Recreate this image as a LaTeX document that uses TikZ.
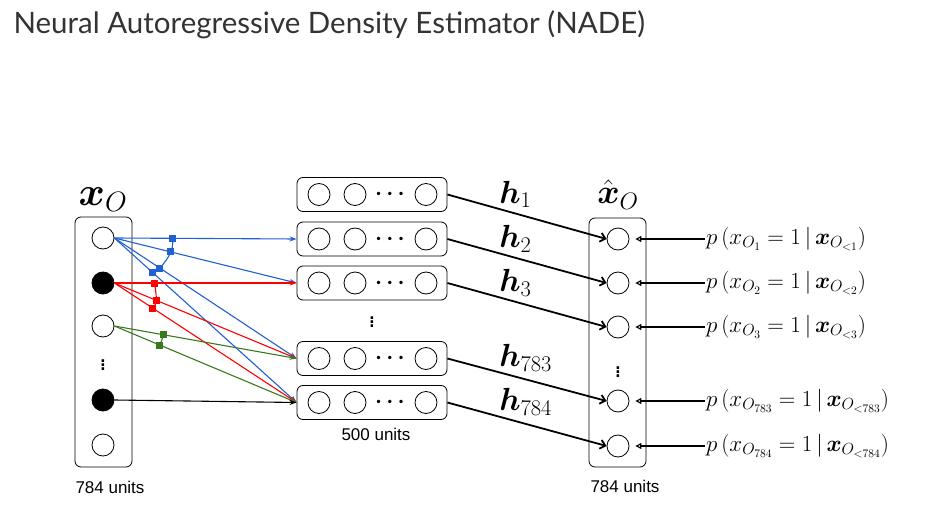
\RequirePackage{fix-cm}
\documentclass[tikz,border=0pt]{standalone}
\usepackage{amsmath,amssymb}
\usepackage[no-math]{fontspec}
\setmainfont{Liberation Sans}
\newfontfamily\titlefont{Lato}
\usetikzlibrary{arrows.meta}

\definecolor{nadeBlue}{HTML}{2060D0}
\definecolor{nadeRed}{HTML}{FF0000}
\definecolor{nadeGreen}{HTML}{3A7A1E}
\definecolor{nadeTitle}{HTML}{333333}

\begin{document}
\begin{tikzpicture}[x=1pt, y=-1pt,
  colbox/.style={draw, rounded corners=6pt, line width=0.8pt, inner sep=0pt},
  unitc/.style={circle, draw, line width=0.8pt, minimum size=22pt, inner sep=0pt},
  onunit/.style={unitc, fill=black},
  inarrow/.style={line width=1.1pt, -{Stealth[length=7pt,width=5pt]}},
  outarrow/.style={line width=1.8pt, -{Straight Barb[length=5pt,width=9pt]}},
  parrow/.style={line width=1.4pt, shorten >=6pt,
    -{Triangle[open,length=6pt,width=6pt,line width=1.2pt]}},
  wsq/.style={fill=#1, minimum size=7pt, inner sep=0pt},
  unitslab/.style={font=\fontsize{17}{19}\selectfont},
  hlab/.style={font=\fontsize{32}{34}\selectfont, inner sep=0pt},
  plab/.style={font=\fontsize{23}{25}\selectfont, inner sep=1pt},
  vdot/.style={font=\fontsize{26}{26}\selectfont\boldmath},
  hdot/.style={font=\fontsize{22}{22}\selectfont\boldmath, inner sep=0pt}]
  \useasboundingbox (0,0) rectangle (947,505);

  \node[anchor=base west, text=nadeTitle, font=\titlefont\fontsize{29.5}{34}\selectfont]
    (title) at (10,34) {Neural Autoregressive Density Estimator (NADE)};

  % input layer
  \node[colbox, minimum width=57pt, minimum height=250pt] (inbox) at (103.5,342) {};
  \node[unitc] (i1) at (103,238) {};
  \node[onunit] (i2) at (103,283) {};
  \node[unitc] (i3) at (103,326) {};
  \node[vdot] (idots) at (103,362) {$\vdots$};
  \node[onunit] (i4) at (103,400) {};
  \node[unitc] (i5) at (103,445) {};
  \node[anchor=base, font=\fontsize{40}{40}\selectfont] (xlab) at (103,205)
    {$\boldsymbol{x}_O$};
  \node[unitslab] (inunits) at (110,487) {784 units};

  % hidden layers
  \foreach \k/\yy in {1/194.5, 2/239, 3/283, 4/358.5, 5/402.5} {
    \node[colbox, minimum width=150pt, minimum height=34pt] (h\k) at (372,\yy) {};
    \node[unitc] (h\k-a) at (319,\yy) {};
    \node[unitc] (h\k-b) at (355,\yy) {};
    \node[hdot] (h\k-d) at (392,\yy) {$\cdots$};
    \node[unitc] (h\k-c) at (426,\yy) {};
  }
  \node[vdot] (hdots) at (372,319) {$\vdots$};
  \node[unitslab] (hidunits) at (376,434) {500 units};

  % output layer
  \node[colbox, minimum width=57pt, minimum height=249pt] (outbox) at (617.5,342.5) {};
  \foreach \k/\yy in {1/239, 2/283, 3/327, 4/401, 5/446}
    \node[unitc] (o\k) at (618,\yy) {};
  \node[vdot] (odots) at (618,369) {$\vdots$};
  \node[anchor=base, font=\fontsize{34}{34}\selectfont] (xhatlab) at (618,204)
    {$\hat{\boldsymbol{x}}_O$};
  \node[unitslab] (outunits) at (625,486) {784 units};

  % input -> hidden, with tied weights marked
  \foreach \t/\p/\m in {h2/0.32/b1, h3/0.31/b2, h4/0.25/b3, h5/0.21/b4}
    \draw[inarrow, nadeBlue] (i1.east) -- coordinate[pos=\p] (\m) (\t.west);
  \foreach \t/\p/\m in {h3/0.22/r1, h4/0.23/r2, h5/0.21/r3}
    \draw[inarrow, nadeRed] (i2.east) -- coordinate[pos=\p] (\m) (\t.west);
  \foreach \t/\p/\m in {h4/0.27/g1, h5/0.25/g2}
    \draw[inarrow, nadeGreen] (i3.east) -- coordinate[pos=\p] (\m) (\t.west);
  \draw[inarrow] (i4.east) -- (h5.west);

  \draw[nadeBlue, line width=1.1pt] plot[smooth, tension=0.7] coordinates {(b1) (b2) (b3) (b4)};
  \draw[nadeRed, line width=1.1pt] plot[smooth, tension=0.7] coordinates {(r1) (r2) (r3)};
  \draw[nadeGreen, line width=1.1pt] (g1) -- (g2);
  \foreach \m in {b1,b2,b3,b4} \node[wsq=nadeBlue] (\m-sq) at (\m) {};
  \foreach \m in {r1,r2,r3} \node[wsq=nadeRed] (\m-sq) at (\m) {};
  \foreach \m in {g1,g2} \node[wsq=nadeGreen] (\m-sq) at (\m) {};

  % hidden -> output
  \foreach \k/\n in {1/1, 2/2, 3/3, 4/783, 5/784}
    \draw[outarrow] (h\k.east) -- node[hlab, pos=0.32, anchor=south west] (hl\k)
      {$\boldsymbol{h}_{\n}$} (o\k.west);

  % conditionals
  \foreach \k/\n/\yy in {1/1/239, 2/2/283, 3/3/327, 4/783/401, 5/784/446} {
    \node[plab, anchor=west] (p\k) at (705,\yy)
      {$p\,(x_{O_{\n}} = 1 \,|\, \boldsymbol{x}_{O_{<\n}})$};
    \draw[parrow] (p\k.west) -- (o\k.east);
  }
\end{tikzpicture}
\end{document}
